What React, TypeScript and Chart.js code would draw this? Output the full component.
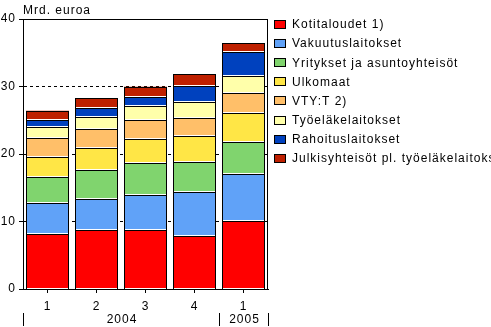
import React, { useEffect, useRef } from 'react';
import { Chart, registerables } from 'chart.js';

Chart.register(...registerables);

const quarterLabels = ['1', '2', '3', '4', '1'];
const yearLabels = ['2004', '2004', '2004', '2004', '2005'];
const unitLabel = 'Mrd. euroa';
const yTicks = { min: 0, max: 40, step: 10 };

const seriesNames = [
  'Kotitaloudet 1)',
  'Vakuutuslaitokset',
  'Yritykset ja asuntoyhteisöt',
  'Ulkomaat',
  'VTY:T 2)',
  'Työeläkelaitokset',
  'Rahoituslaitokset',
  'Julkisyhteisöt pl. työeläkelaitokset',
];
const seriesColors = ['#FF0000', '#60A2F8', '#80D46E', '#FFE646', '#FFBF69', '#FFFFAA', '#0041BE', '#BE2000'];

const kotitaloudet = [8.1, 8.7, 8.8, 7.9, 10.1];
const vakuutuslaitokset = [4.65, 4.7, 5.2, 6.5, 7.0];
const yritykset = [3.85, 4.3, 4.7, 4.4, 4.7];
const ulkomaat = [3.0, 3.25, 3.5, 3.8, 4.3];
const vtyt = [2.8, 2.7, 2.9, 2.75, 2.95];
const tyoelake = [1.6, 1.9, 2.0, 2.35, 2.55];
const rahoitus = [1.0, 1.3, 1.35, 2.35, 3.5];
const julkisyhteisot = [1.4, 1.45, 1.5, 1.75, 1.35];

const seriesValues = [kotitaloudet, vakuutuslaitokset, yritykset, ulkomaat, vtyt, tyoelake, rahoitus, julkisyhteisot];

const FONT_FAMILY = '"Liberation Sans", Arial, sans-serif';
const font = { family: FONT_FAMILY, size: 12 };

const extrasPlugin = {
  id: 'extras',
  beforeDraw(chart: any) {
    chart.ctx.letterSpacing = '1px';
  },
  afterDatasetsDraw(chart: any) {
    const ctx = chart.ctx;
    ctx.save();
    chart.data.datasets.forEach((ds: any, i: number) => {
      const meta = chart.getDatasetMeta(i);
      meta.data.forEach((el: any) => {
        const { x, y, base, width } = el.getProps(['x', 'y', 'base', 'width'], true);
        const left = Math.round(x - width / 2);
        const right = Math.round(x + width / 2);
        const top = Math.round(Math.min(y, base));
        const bottom = Math.round(Math.max(y, base));
        if (bottom - top < 1) return;
        ctx.fillStyle = ds.backgroundColor;
        ctx.fillRect(left, top, right - left, bottom - top);
        ctx.fillStyle = '#000';
        ctx.fillRect(left, top, right - left, 1);
        ctx.fillRect(left, top, 1, bottom - top);
        ctx.fillRect(right - 1, top, 1, bottom - top);
        ctx.fillStyle = '#FFFFFF';
        ctx.fillRect(left + 1, bottom - 1, right - left - 2, 1);
      });
    });
    ctx.restore();
  },
  afterDraw(chart: any) {
    const ctx = chart.ctx;
    const area = chart.chartArea;
    ctx.save();
    ctx.letterSpacing = '1px';
    // frame
    ctx.strokeStyle = '#000';
    ctx.lineWidth = 1;
    ctx.setLineDash([]);
    ctx.strokeRect(Math.round(area.left) + 0.5, Math.round(area.top) + 0.5,
      Math.round(area.right - area.left) - 1, Math.round(area.bottom - area.top));
    // unit label
    ctx.fillStyle = '#000';
    ctx.font = `12px ${FONT_FAMILY}`;
    ctx.textAlign = 'left';
    ctx.textBaseline = 'alphabetic';
    ctx.fillText(unitLabel, area.left, 14);
    // year groups
    const n = yearLabels.length;
    const catW = (area.right - area.left) / n;
    let start = 0;
    const seps: number[] = [area.left];
    for (let i = 1; i <= n; i++) {
      if (i === n || yearLabels[i] !== yearLabels[start]) {
        const x0 = area.left + start * catW;
        const x1 = area.left + i * catW;
        seps.push(x1);
        ctx.textAlign = 'center';
        ctx.textBaseline = 'middle';
        ctx.fillText(yearLabels[start], (x0 + x1) / 2 + 1, 319.5);
        start = i;
      }
    }
    seps.forEach((sx) => {
      const px = Math.round(sx) + 0.5;
      ctx.beginPath();
      ctx.moveTo(px, 313);
      ctx.lineTo(px, 326);
      ctx.stroke();
    });
    // legend
    const lx = area.right + 6;
    seriesNames.forEach((name, i) => {
      const cy = 24 + i * 19.1;
      const by = Math.round(cy - 4);
      ctx.fillStyle = seriesColors[i];
      ctx.fillRect(lx, by, 12, 9);
      ctx.strokeStyle = '#000';
      ctx.strokeRect(lx + 0.5, by + 0.5, 11, 8);
      ctx.fillStyle = '#000';
      ctx.textAlign = 'left';
      ctx.textBaseline = 'middle';
      ctx.fillText(name, lx + 18, cy + 1);
    });
    ctx.restore();
  },
};

export default function App() {
  const ref = useRef<HTMLCanvasElement | null>(null);
  useEffect(() => {
    document.body.style.margin = '0';
    const canvas = ref.current;
    if (!canvas) return;
    const chart = new Chart(canvas, {
      type: 'bar',
      data: {
        labels: quarterLabels,
        datasets: seriesNames.map((name, i) => ({
          label: name,
          data: seriesValues[i],
          backgroundColor: seriesColors[i],
          borderWidth: 0,
          barPercentage: 43 / 49,
          categoryPercentage: 1,
        })),
      },
      options: {
        animation: false,
        responsive: false,
        devicePixelRatio: 1,
        layout: { padding: { top: 19, right: 223, left: 0, bottom: 0 } },
        plugins: { legend: { display: false }, tooltip: { enabled: false }, title: { display: false } },
        scales: {
          x: {
            stacked: true,
            grid: {
              display: true,
              drawOnChartArea: false,
              drawTicks: true,
              offset: false,
              tickLength: 4,
              tickColor: '#000',
              color: '#000',
            },
            border: { display: true, color: '#000', width: 1 },
            ticks: { color: '#000', font, padding: 6, maxRotation: 0, autoSkip: false },
            afterFit: (s: any) => { s.height = 38; },
          },
          y: {
            stacked: true,
            min: yTicks.min,
            max: yTicks.max,
            ticks: { stepSize: yTicks.step, color: '#000', font, padding: 3 },
            grid: {
              color: (c: any) => (c.tick && (c.tick.value === yTicks.min || c.tick.value === yTicks.max) ? 'rgba(0,0,0,0)' : '#000'),
              tickColor: '#000',
              tickLength: 4,
              lineWidth: 1,
            },
            border: { display: true, color: '#000', width: 1, dash: [3, 3] },
            afterFit: (s: any) => { s.width = 23; },
          },
        },
      },
      plugins: [extrasPlugin],
    } as any);
    return () => chart.destroy();
  }, []);
  return (
    <div style={{ position: 'absolute', left: 0, top: 0, width: 491, height: 327, background: '#fff' }}>
      <canvas ref={ref} width={491} height={327} />
    </div>
  );
}
